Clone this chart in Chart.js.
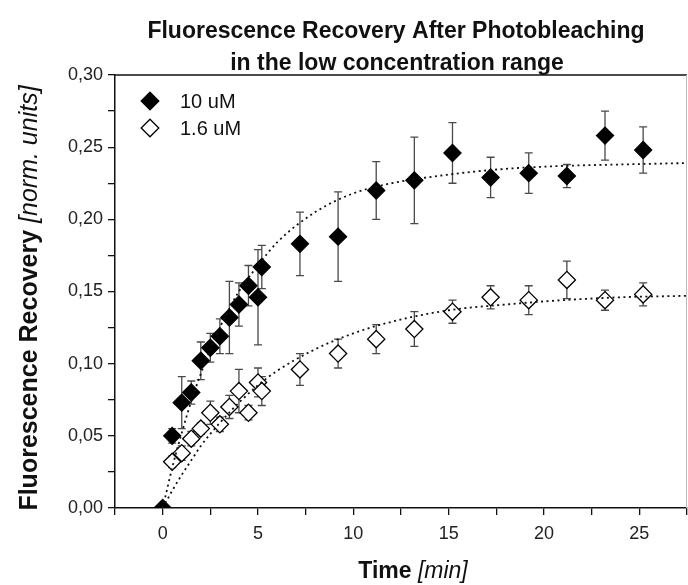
<!DOCTYPE html>
<html>
<head>
<meta charset="utf-8">
<script src="https://cdn.jsdelivr.net/npm/chart.js@4.4.1/dist/chart.umd.min.js"></script>
<style>
  html, body { margin: 0; padding: 0; background: #ffffff; overflow: hidden; }
  canvas { display: block; }
</style>
</head>
<body>
<canvas id="c" width="688" height="585" style="width:688px;height:585px"></canvas>
<script>
// ---- data ----
const titleLines = ['Fluorescence Recovery After Photobleaching', 'in the low concentration range'];
const seriesNames = ['10 uM', '1.6 uM'];
const yTickLabels = ['0,00', '0,05', '0,10', '0,15', '0,20', '0,25', '0,30'];
const xTickLabels = ['0', '5', '10', '15', '20', '25'];

const time10 = [0, 0.5, 1, 1.5, 2, 2.5, 3, 3.5, 4, 4.5, 5, 5.2, 7.2, 9.2, 11.2, 13.2, 15.2, 17.2, 19.2, 21.2, 23.2, 25.2];
const val10  = [0.000, 0.050, 0.073, 0.080, 0.102, 0.111, 0.119, 0.132, 0.141, 0.154, 0.146, 0.167, 0.183, 0.188, 0.220, 0.227, 0.246, 0.229, 0.232, 0.230, 0.258, 0.248];
const err10  = [0, 0.005, 0.018, 0.008, 0.013, 0.010, 0.012, 0.025, 0.015, 0.014, 0.033, 0.015, 0.022, 0.031, 0.020, 0.030, 0.021, 0.014, 0.014, 0.008, 0.017, 0.016];

const time16 = [0.5, 1, 1.5, 2, 2.5, 3, 3.5, 4, 4.5, 5, 5.2, 7.2, 9.2, 11.2, 13.2, 15.2, 17.2, 19.2, 21.2, 23.2, 25.2];
const val16  = [0.032, 0.038, 0.048, 0.055, 0.066, 0.058, 0.070, 0.081, 0.066, 0.087, 0.081, 0.096, 0.107, 0.117, 0.124, 0.136, 0.146, 0.144, 0.158, 0.144, 0.148];
const err16  = [0.004, 0.005, 0.005, 0.004, 0.008, 0.005, 0.008, 0.015, 0.005, 0.010, 0.010, 0.011, 0.010, 0.010, 0.012, 0.008, 0.008, 0.010, 0.013, 0.007, 0.008];

const fitTime = [0, 0.25, 0.5, 1, 1.5, 2, 3, 4, 5, 6, 8, 10, 12, 15, 18, 21, 24, 27.5];
const fit10   = [0, 0.014, 0.028, 0.052, 0.074, 0.093, 0.125, 0.150, 0.168, 0.184, 0.205, 0.218, 0.225, 0.231, 0.235, 0.237, 0.238, 0.239];
const fit16   = [0, 0.006, 0.012, 0.023, 0.033, 0.043, 0.059, 0.073, 0.085, 0.095, 0.110, 0.121, 0.129, 0.137, 0.141, 0.144, 0.146, 0.147];

const pts = (xs, ys) => xs.map((x, i) => ({ x: x, y: ys[i] }));
const FONT = '"Liberation Sans", Arial, Helvetica, sans-serif';

// error bars drawn under the markers
const errorBarPlugin = {
  id: 'errorBars',
  beforeDatasetsDraw(chart) {
    const ctx = chart.ctx;
    const ys = chart.scales.y;
    const area = chart.chartArea;
    ctx.save();
    ctx.beginPath();
    ctx.rect(area.left, area.top, area.right - area.left, area.bottom - area.top);
    ctx.clip();
    ctx.strokeStyle = '#4a4a4a';
    ctx.lineWidth = 1.3;
    chart.data.datasets.forEach((ds, di) => {
      if (!ds.errorBars) return;
      const meta = chart.getDatasetMeta(di);
      meta.data.forEach((p, i) => {
        const e = ds.errorBars[i];
        if (!e) return;
        const v = ds.data[i].y;
        const yTop = ys.getPixelForValue(v + e);
        const yBot = ys.getPixelForValue(v - e);
        const x = p.x;
        ctx.beginPath();
        ctx.moveTo(x, yTop); ctx.lineTo(x, yBot);
        ctx.moveTo(x - 4, yTop); ctx.lineTo(x + 4, yTop);
        ctx.moveTo(x - 4, yBot); ctx.lineTo(x + 4, yBot);
        ctx.stroke();
      });
    });
    ctx.restore();
  }
};

function diamond(ctx, x, y, r, filled) {
  ctx.beginPath();
  ctx.moveTo(x, y - r); ctx.lineTo(x + r, y); ctx.lineTo(x, y + r); ctx.lineTo(x - r, y); ctx.closePath();
  ctx.fillStyle = filled ? '#000' : '#fff';
  ctx.fill();
  ctx.lineWidth = 1.3;
  ctx.strokeStyle = '#000';
  ctx.stroke();
}

const decorPlugin = {
  id: 'decor',
  afterDraw(chart) {
    const ctx = chart.ctx;
    const a = chart.chartArea;
    ctx.save();
    // frame: top and right
    ctx.strokeStyle = '#111';
    ctx.lineWidth = 1.5;
    ctx.beginPath(); ctx.moveTo(a.left, a.top); ctx.lineTo(a.right, a.top); ctx.stroke();
    ctx.strokeStyle = '#bbb';
    ctx.lineWidth = 1;
    ctx.beginPath(); ctx.moveTo(a.right - 0.5, a.top); ctx.lineTo(a.right - 0.5, a.bottom); ctx.stroke();

    // title
    ctx.fillStyle = '#111';
    ctx.textAlign = 'center';
    ctx.textBaseline = 'alphabetic';
    ctx.font = 'bold 23px ' + FONT;
    ctx.fillText(titleLines[0], 396, 38);
    ctx.fillText(titleLines[1], 397, 70);

    // legend
    ctx.textAlign = 'left';
    ctx.textBaseline = 'middle';
    ctx.font = '20px ' + FONT;
    diamond(ctx, 150, 101, 8.8, true);
    ctx.fillStyle = '#111';
    ctx.fillText(seriesNames[0], 180, 102);
    diamond(ctx, 150, 128, 8.8, false);
    ctx.fillStyle = '#111';
    ctx.fillText(seriesNames[1], 180, 129);

    // x axis title: bold + italic parts
    const xb = 'Time ', xi = '[min]';
    ctx.textBaseline = 'alphabetic';
    ctx.font = 'bold 23px ' + FONT;
    const wb = ctx.measureText(xb).width;
    ctx.font = 'italic 23px ' + FONT;
    const wi = ctx.measureText(xi).width;
    const cx = 413;
    let sx = cx - (wb + wi) / 2;
    ctx.font = 'bold 23px ' + FONT;
    ctx.fillText(xb, sx, 578);
    ctx.font = 'italic 23px ' + FONT;
    ctx.fillText(xi, sx + wb, 578);

    // y axis title, rotated
    const yb = 'Fluorescence Recovery ', yi = '[norm. units]';
    ctx.font = 'bold 25px ' + FONT;
    const wyb = ctx.measureText(yb).width;
    ctx.font = 'italic 25px ' + FONT;
    const wyi = ctx.measureText(yi).width;
    ctx.translate(37, 298);
    ctx.rotate(-Math.PI / 2);
    let sy = -(wyb + wyi) / 2;
    ctx.font = 'bold 25px ' + FONT;
    ctx.fillText(yb, sy, 0);
    ctx.font = 'italic 25px ' + FONT;
    ctx.fillText(yi, sy + wyb, 0);
    ctx.restore();
  }
};

const isMultiple = (v, step) => Math.abs(Math.round(v / step) * step - v) < 1e-9;

new Chart(document.getElementById('c'), {
  type: 'scatter',
  data: {
    datasets: [
      {
        label: 'fit 10 uM', type: 'line', data: pts(fitTime, fit10), order: 0,
        borderColor: '#111', borderWidth: 1.8, borderDash: [2, 3.5], pointRadius: 0,
        cubicInterpolationMode: 'monotone', fill: false, clip: 0
      },
      {
        label: 'fit 1.6 uM', type: 'line', data: pts(fitTime, fit16), order: 0,
        borderColor: '#111', borderWidth: 1.8, borderDash: [2, 3.5], pointRadius: 0,
        cubicInterpolationMode: 'monotone', fill: false, clip: 0
      },
      {
        label: seriesNames[0], data: pts(time10, val10), errorBars: err10, order: 1,
        pointStyle: 'rectRot', pointRadius: 8.6, pointHoverRadius: 8.6,
        backgroundColor: '#000', borderColor: '#000', borderWidth: 1.2, clip: 0
      },
      {
        label: seriesNames[1], data: pts(time16, val16), errorBars: err16, order: 1,
        pointStyle: 'rectRot', pointRadius: 8.6, pointHoverRadius: 8.6,
        backgroundColor: '#fff', borderColor: '#000', borderWidth: 1.3, clip: 0
      }
    ]
  },
  options: {
    responsive: false,
    animation: false,
    events: [],
    layout: { autoPadding: false, padding: { top: 75, right: 1, left: 0, bottom: 0 } },
    plugins: { legend: { display: false }, title: { display: false }, tooltip: { enabled: false } },
    scales: {
      x: {
        type: 'linear', min: -2.5, max: 27.5,
        afterFit(s) { s.height = 77; s.paddingLeft = 0; s.paddingRight = 0; },
        border: { display: true, color: '#111', width: 1.5 },
        grid: { display: true, drawOnChartArea: false, drawTicks: true, tickLength: 7, color: '#111', lineWidth: 1.3 },
        ticks: {
          stepSize: 2.5, autoSkip: false, maxRotation: 0, padding: 8, color: '#222',
          font: { family: FONT, size: 18 },
          callback: (v) => isMultiple(v, 5) && v >= 0 ? xTickLabels[Math.round(v / 5)] : ''
        }
      },
      y: {
        type: 'linear', min: 0, max: 0.3,
        afterFit(s) { s.width = 115; s.paddingTop = 0; s.paddingBottom = 0; },
        border: { display: true, color: '#111', width: 1.5 },
        grid: { display: true, drawOnChartArea: false, drawTicks: true, tickLength: 7, color: '#111', lineWidth: 1.3 },
        ticks: {
          stepSize: 0.025, autoSkip: false, padding: 5, color: '#222',
          font: { family: FONT, size: 18 },
          callback: (v) => isMultiple(v, 0.05) ? yTickLabels[Math.round(v / 0.05)] : ''
        }
      }
    }
  },
  plugins: [errorBarPlugin, decorPlugin]
});
</script>
</body>
</html>
